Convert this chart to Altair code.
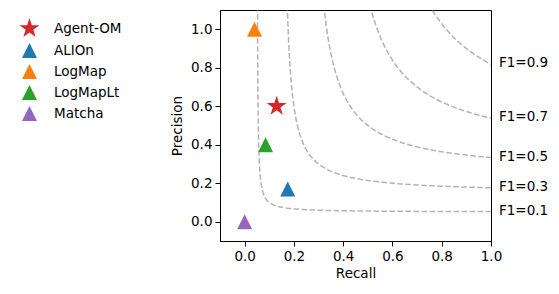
import altair as alt
import numpy as np
import pandas as pd

# Data
systems = ["Agent-OM", "ALIOn", "LogMap", "LogMapLt", "Matcha"]
recall = [0.13, 0.175, 0.04, 0.085, 0.0]
precision = [0.60, 0.17, 1.00, 0.40, 0.00]
colors = ["#d62728", "#1f77b4", "#ff7f0e", "#2ca02c", "#9467bd"]
f1_levels = [0.1, 0.3, 0.5, 0.7, 0.9]
x_ticks = [0.0, 0.2, 0.4, 0.6, 0.8, 1.0]
y_ticks = [0.0, 0.2, 0.4, 0.6, 0.8, 1.0]

# iso-F1 reference curves
rows = []
for f in f1_levels:
    xs = f / 2 + np.geomspace(1e-4, 1 - f / 2, 400)
    for r in xs:
        p = f * r / (2 * r - f)
        if p <= 1.3:
            rows.append({"f": f, "r": float(r), "p": float(p)})
curves = pd.DataFrame(rows)
labels = pd.DataFrame({
    "f": f1_levels,
    "r": [1.0] * len(f1_levels),
    "p": [f / (2 - f) for f in f1_levels],
    "txt": [f"F1={f:.1f}" for f in f1_levels],
})
pts = pd.DataFrame({"system": systems, "recall": recall, "precision": precision})

star = ("M0,-1.4L0.314,-0.433L1.331,-0.433L0.508,0.165L0.823,1.133L0,0.535"
        "L-0.823,1.133L-0.508,0.165L-1.331,-0.433L-0.314,-0.433Z")
tri = "M0,-1L-1,1L1,1Z"

FS = 13.5
xscale = alt.Scale(domain=[-0.1, 1.0], nice=False, zero=False)
yscale = alt.Scale(domain=[-0.1, 1.1], nice=False, zero=False)

lines = alt.Chart(curves).mark_line(
    clip=True, color="gray", opacity=0.6, strokeWidth=1.5, strokeDash=[5.6, 2.4]
).encode(
    x=alt.X("r:Q", scale=xscale,
            axis=alt.Axis(values=x_ticks, format=".1f", title="Recall")),
    y=alt.Y("p:Q", scale=yscale,
            axis=alt.Axis(values=y_ticks, format=".1f", title="Precision")),
    detail="f:N",
)

texts = alt.Chart(labels).mark_text(
    align="left", baseline="middle", dx=8, dy=-1, fontSize=FS,
    font="DejaVu Sans", color="black"
).encode(
    x=alt.X("r:Q", scale=xscale),
    y=alt.Y("p:Q", scale=yscale),
    text="txt:N",
)

leg = alt.Legend(orient="none", legendX=-198, legendY=11, title=None,
                 symbolSize=225, symbolStrokeWidth=0, symbolOpacity=1,
                 labelFontSize=FS, labelFont="DejaVu Sans", labelColor="black",
                 rowPadding=6, labelOffset=17, padding=0)

points = alt.Chart(pts).mark_point(filled=True, opacity=1, size=225).encode(
    x=alt.X("recall:Q", scale=xscale),
    y=alt.Y("precision:Q", scale=yscale),
    color=alt.Color("system:N", scale=alt.Scale(domain=systems, range=colors), legend=leg),
    shape=alt.Shape("system:N", scale=alt.Scale(domain=systems, range=[star, tri, tri, tri, tri]), legend=leg),
)

chart = alt.layer(lines, texts, points).properties(
    width=271, height=231,
    autosize=alt.AutoSizeParams(type="none"),
    padding={"left": 212, "top": 2, "right": 60, "bottom": 40},
).configure_view(
    stroke="black", strokeWidth=1
).configure_axis(
    grid=False, labelFont="DejaVu Sans", labelFontSize=FS, labelColor="black",
    tickColor="black", tickSize=5, domainColor="black", labelPadding=3,
    labelFlush=False, labelOverlap=False, labelBound=False,
    titleFont="DejaVu Sans", titleFontSize=FS, titleFontWeight="normal",
    titleColor="black",
).configure_axisX(titlePadding=4).configure_axisY(titlePadding=6)

chart.save("out.html", embed_options={"renderer": "svg", "actions": False})
